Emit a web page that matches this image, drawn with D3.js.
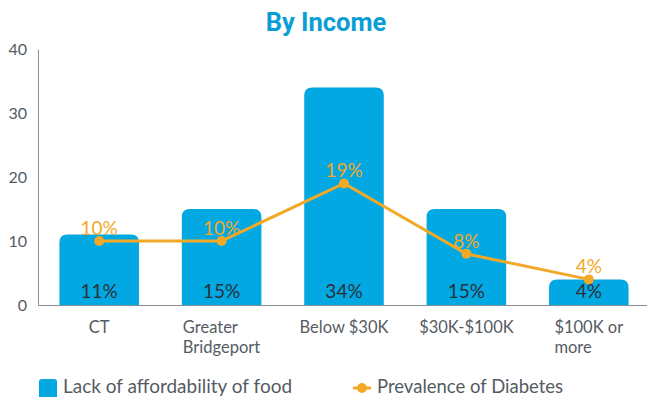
<!DOCTYPE html>
<html>
<head>
<meta charset="utf-8">
<script src="https://cdn.jsdelivr.net/npm/d3@7"></script>
<style>
  html, body { margin: 0; padding: 0; background: #fff; }
  svg { display: block; }
</style>
</head>
<body>
<svg id="chart" width="647" height="397"></svg>
<script>
// Income groups and the two measures shown for each
const categories = ["CT", "Greater Bridgeport", "Below $30K", "$30K-$100K", "$100K or more"];
const categoryLines = [["CT"], ["Greater", "Bridgeport"], ["Below $30K"], ["$30K-$100K"], ["$100K or", "more"]];
const foodAffordability = [11, 15, 34, 15, 4];
const diabetesPrevalence = [10, 10, 19, 8, 4];
const yTicks = [0, 10, 20, 30, 40];
const seriesNames = ["Lack of affordability of food", "Prevalence of Diabetes"];

const blue = "#02a8e2";
const orange = "#f2a928";
const textGray = "#555b63";

const svg = d3.select("#chart");
const margin = { left: 38, right: -3, top: 49, bottom: 92 };
const W = 647, H = 397;

const x = d3.scaleBand()
  .domain(categories)
  .range([margin.left, W - margin.right])
  .paddingInner(0.35)
  .paddingOuter(0.175);

const y = d3.scaleLinear()
  .domain([0, 40])
  .range([H - margin.bottom, margin.top]);

// Title
svg.append("text")
  .attr("x", 326)
  .attr("y", 31)
  .attr("text-anchor", "middle")
  .attr("font-family", "Roboto")
  .attr("font-weight", 700)
  .attr("font-size", 25.5)
  .attr("fill", "#0a9ed6")
  .text("By Income");

// Y axis
const yAxis = svg.append("g")
  .attr("transform", `translate(${margin.left},0)`)
  .call(d3.axisLeft(y).tickValues(yTicks).tickSize(0).tickPadding(11));
yAxis.select(".domain").attr("stroke", "#8a8f96").attr("stroke-width", 1);
yAxis.selectAll("text")
  .attr("font-family", "Lato")
  .attr("font-size", 16)
  .attr("fill", textGray);

// Bars with rounded top corners
const r = 8;
function barPath(x0, w, yTop, yBase) {
  const rr = Math.min(r, (yBase - yTop));
  return `M${x0},${yBase} L${x0},${yTop + rr} Q${x0},${yTop} ${x0 + rr},${yTop} ` +
         `L${x0 + w - rr},${yTop} Q${x0 + w},${yTop} ${x0 + w},${yTop + rr} L${x0 + w},${yBase} Z`;
}
svg.append("g").selectAll("path")
  .data(foodAffordability)
  .join("path")
  .attr("d", (d, i) => barPath(x(categories[i]), x.bandwidth(), y(d), y(0)))
  .attr("fill", blue);

// X axis
const xAxis = svg.append("g")
  .attr("transform", `translate(0,${y(0)})`)
  .call(d3.axisBottom(x).tickSize(0).tickFormat(""));
xAxis.select(".domain").attr("stroke", "#8a8f96").attr("stroke-width", 1);

// Category labels (wrapped)
const catG = svg.append("g");
categories.forEach((c, i) => {
  const lines = categoryLines[i];
  const cx = x(c) + x.bandwidth() / 2;
  const multi = lines.length > 1;
  const t = catG.append("text")
    .attr("font-family", "Lato")
    .attr("font-size", 16.5)
    .attr("fill", textGray)
    .attr("text-anchor", multi ? "start" : "middle");
  lines.forEach((ln, k) => {
    t.append("tspan").attr("x", cx).attr("y", 333 + k * 20).text(ln);
  });
  // wrapped labels are left-aligned, block centred on the band
  if (multi) {
    const w = t.node().getBBox().width;
    t.selectAll("tspan").attr("x", cx - w / 2);
  }
});

// Bar value labels
svg.append("g").selectAll("text")
  .data(foodAffordability)
  .join("text")
  .attr("x", (d, i) => x(categories[i]) + x.bandwidth() / 2)
  .attr("y", y(0) - 7)
  .attr("text-anchor", "middle")
  .attr("font-family", "Lato")
  .attr("font-size", 19)
  .attr("fill", "#2b3038")
  .text(d => d + "%");

// Diabetes line
const cxOf = i => x(categories[i]) + x.bandwidth() / 2;
const line = d3.line().x((d, i) => cxOf(i)).y(d => y(d));
svg.append("path")
  .datum(diabetesPrevalence)
  .attr("d", line)
  .attr("fill", "none")
  .attr("stroke", orange)
  .attr("stroke-width", 3);

svg.append("g").selectAll("circle")
  .data(diabetesPrevalence)
  .join("circle")
  .attr("cx", (d, i) => cxOf(i))
  .attr("cy", d => y(d))
  .attr("r", 5)
  .attr("fill", orange);

svg.append("g").selectAll("text")
  .data(diabetesPrevalence)
  .join("text")
  .attr("x", (d, i) => cxOf(i))
  .attr("y", d => y(d) - 6)
  .attr("text-anchor", "middle")
  .attr("font-family", "Lato")
  .attr("font-size", 19)
  .attr("fill", orange)
  .text(d => d + "%");

// Legend
const lg = svg.append("g");
lg.append("rect")
  .attr("x", 39).attr("y", 379).attr("width", 18).attr("height", 22)
  .attr("rx", 3).attr("fill", blue);
lg.append("text")
  .attr("x", 63).attr("y", 393)
  .attr("font-family", "Lato").attr("font-size", 19).attr("fill", textGray)
  .text(seriesNames[0]);
lg.append("line")
  .attr("x1", 353).attr("x2", 371).attr("y1", 388).attr("y2", 388)
  .attr("stroke", orange).attr("stroke-width", 3);
lg.append("circle")
  .attr("cx", 362).attr("cy", 388).attr("r", 5).attr("fill", orange);
lg.append("text")
  .attr("x", 377).attr("y", 393)
  .attr("font-family", "Lato").attr("font-size", 18.5).attr("fill", textGray)
  .text(seriesNames[1]);
</script>
</body>
</html>
